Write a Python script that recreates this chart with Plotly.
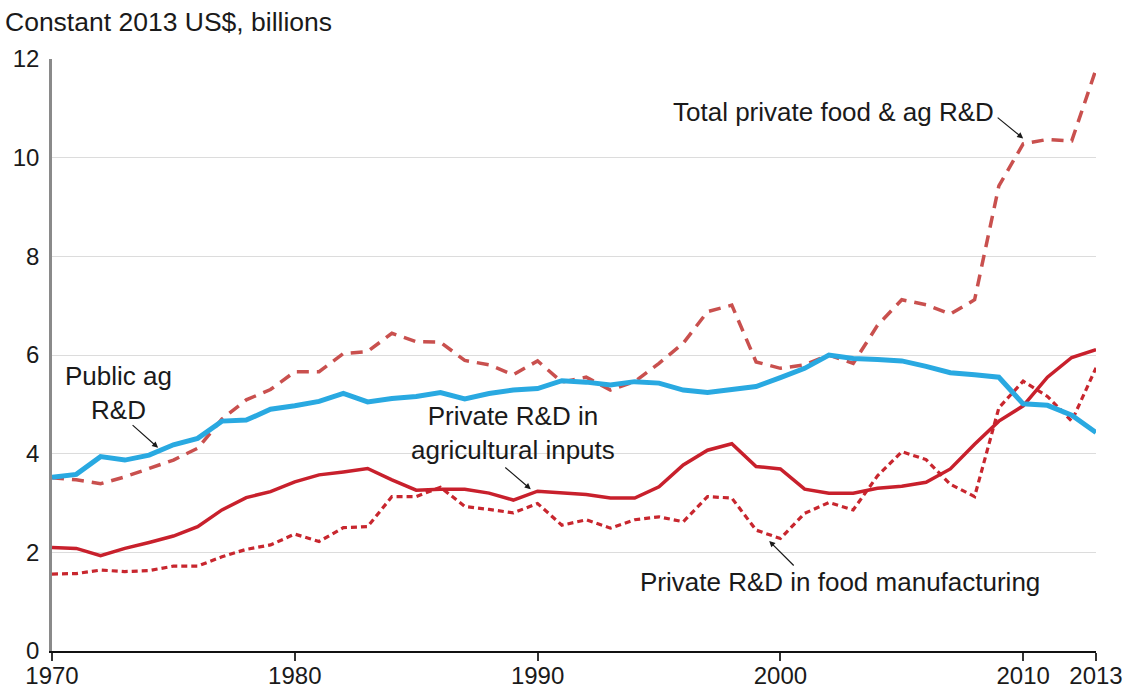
import plotly.graph_objects as go

years = list(range(1970, 2014))

public_ag = [3.52, 3.58, 3.94, 3.87, 3.97, 4.18, 4.31, 4.66, 4.68, 4.90, 4.97,
             5.06, 5.22, 5.05, 5.12, 5.16, 5.24, 5.11, 5.22, 5.29, 5.32, 5.48,
             5.45, 5.39, 5.46, 5.43, 5.29, 5.24, 5.30, 5.36, 5.54, 5.73, 6.00,
             5.93, 5.91, 5.88, 5.77, 5.64, 5.60, 5.55, 5.01, 4.98, 4.78, 4.43]

total_private = [3.51, 3.47, 3.39, 3.53, 3.70, 3.87, 4.11, 4.70, 5.09, 5.30, 5.66,
                 5.66, 6.03, 6.07, 6.44, 6.27, 6.26, 5.89, 5.80, 5.60, 5.88, 5.45,
                 5.55, 5.29, 5.46, 5.83, 6.24, 6.88, 7.01, 5.86, 5.73, 5.80, 6.00,
                 5.83, 6.60, 7.12, 7.02, 6.83, 7.12, 9.43, 10.28, 10.37, 10.34, 11.79]

ag_inputs = [2.10, 2.08, 1.93, 2.08, 2.20, 2.33, 2.52, 2.86, 3.11, 3.23, 3.43,
             3.57, 3.63, 3.70, 3.47, 3.26, 3.28, 3.28, 3.20, 3.06, 3.24, 3.21,
             3.17, 3.10, 3.10, 3.33, 3.77, 4.07, 4.20, 3.74, 3.69, 3.28, 3.20,
             3.20, 3.30, 3.34, 3.42, 3.69, 4.19, 4.66, 4.97, 5.55, 5.95, 6.11]

food_mfg = [1.56, 1.57, 1.64, 1.61, 1.63, 1.72, 1.72, 1.91, 2.06, 2.15, 2.37,
            2.22, 2.50, 2.52, 3.13, 3.13, 3.32, 2.93, 2.87, 2.80, 2.99, 2.55,
            2.66, 2.49, 2.66, 2.72, 2.62, 3.13, 3.10, 2.45, 2.28, 2.79, 3.01,
            2.86, 3.55, 4.04, 3.88, 3.38, 3.13, 4.93, 5.47, 5.16, 4.66, 5.74]

x_ticks = [1970, 1980, 1990, 2000, 2010, 2013]
y_ticks = [0, 2, 4, 6, 8, 10, 12]

FONT = "Liberation Sans, Arial, sans-serif"
TXT = "#1a1a1a"

fig = go.Figure()
fig.add_trace(go.Scatter(x=years, y=total_private, mode="lines",
                         line=dict(color="#C9504E", width=3.5, dash="12px,8px"),
                         name="Total private food & ag R&D"))
fig.add_trace(go.Scatter(x=years, y=food_mfg, mode="lines",
                         line=dict(color="#C8262E", width=3.2, dash="6px,4px"),
                         name="Private R&D in food manufacturing"))
fig.add_trace(go.Scatter(x=years, y=ag_inputs, mode="lines",
                         line=dict(color="#C8202C", width=3.5),
                         name="Private R&D in agricultural inputs"))
fig.add_trace(go.Scatter(x=years, y=public_ag, mode="lines",
                         line=dict(color="#29A9E1", width=5),
                         name="Public ag R&D"))

ann_font = dict(family=FONT, size=26, color=TXT)
annotations = [
    dict(text="Constant 2013 US$, billions", xref="paper", yref="paper",
         x=-0.047, y=1.062, xanchor="left", yanchor="middle", showarrow=False,
         font=dict(family=FONT, size=26.5, color=TXT)),
    dict(text="Total private food & ag R&D", x=2002.2, y=10.93, showarrow=False,
         font=ann_font, xanchor="center", yanchor="middle"),
    dict(text="Public ag<br>R&D", x=1972.75, y=5.22, showarrow=False,
         font=ann_font, xanchor="center", yanchor="middle"),
    dict(text="Private R&D in<br>agricultural inputs", x=1989.0, y=4.42,
         showarrow=False, font=ann_font, xanchor="center", yanchor="middle"),
    dict(text="Private R&D in food manufacturing", x=2002.45, y=1.4,
         showarrow=False, font=ann_font, xanchor="center", yanchor="middle"),
]
arrows = [
    (2010.0, 10.39, -27, -22),
    (1974.37, 4.12, -27, -24),
    (1989.72, 3.28, -27, -23),
    (1999.54, 2.23, 26, 26),
]
for ax_, ay_, dx, dy in arrows:
    annotations.append(dict(x=ax_, y=ay_, ax=dx, ay=dy, text="", showarrow=True,
                            arrowhead=2, arrowsize=1, arrowwidth=1.2,
                            arrowcolor="#1a1a1a"))

fig.update_layout(
    width=1129, height=692,
    margin=dict(l=52, r=33, t=59, b=41),
    paper_bgcolor="white", plot_bgcolor="white",
    showlegend=False,
    font=dict(family=FONT, color=TXT),
    annotations=annotations,
    xaxis=dict(range=[1970, 2013], tickvals=x_ticks, ticktext=[str(v) for v in x_ticks],
               showgrid=False, zeroline=False, showline=True, linecolor="#111111",
               linewidth=2, ticks="outside", ticklen=8, tickwidth=1.5,
               tickcolor="#333333", automargin=False, ticklabelstandoff=-6,
               tickfont=dict(family=FONT, size=24, color=TXT)),
    yaxis=dict(range=[0, 12], tickvals=y_ticks, showgrid=True, gridcolor="#DCDCDC",
               gridwidth=1.2, zeroline=False, showline=True, linecolor="#8a8a8a",
               linewidth=2.5, ticks="", ticklabelstandoff=5, automargin=False,
               tickfont=dict(family=FONT, size=24, color=TXT)),
)

fig.write_html("out.html", config={"displayModeBar": False},
               post_script="document.body.style.margin='0';document.body.style.overflow='hidden';")
